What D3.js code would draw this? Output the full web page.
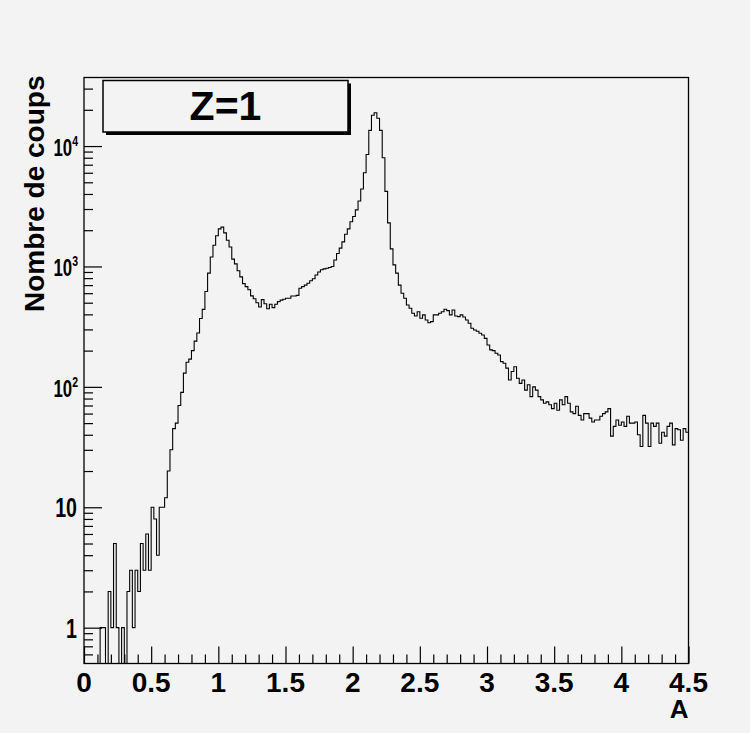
<!DOCTYPE html>
<html>
<head>
<meta charset="utf-8">
<script src="https://cdn.jsdelivr.net/npm/d3@7"></script>
<style>
  body { margin: 0; background: #f3f3f3; }
  svg { display: block; }
  text { font-family: "Liberation Sans", Arial, sans-serif; font-weight: bold; fill: #000; }
</style>
</head>
<body>
<div id="chart"></div>
<script>
// histogram: 225 bins of width 0.02 from 0 to 4.5
var binWidth = 0.02;
var xMin = 0, xMax = 4.5;
var counts = [
    0, 0, 0, 0, 0, 0, 1, 1, 0, 2,
    1, 5, 1, 0, 1, 0, 2, 3, 1, 3,
    2, 5, 3, 6, 3, 10, 8, 4, 10, 10,
    12, 20, 30, 45, 50, 70, 90, 130, 160, 170,
    200, 240, 280, 370, 440, 620, 880, 1200, 1500, 1800,
    2050, 2120, 1900, 1650, 1450, 1150, 1050, 920, 820, 720,
    680, 640, 570, 540, 500, 460, 530, 490, 445, 485,
    455, 485, 510, 525, 534, 545, 545, 569, 569, 575,
    659, 680, 700, 725, 760, 790, 850, 900, 940, 955,
    966, 980, 1000, 1130, 1280, 1420, 1600, 1850, 2050, 2350,
    2600, 2950, 3500, 4400, 6000, 8500, 13500, 18000, 18900, 17000,
    13500, 8000, 4200, 2300, 1400, 1030, 880, 700, 599, 545,
    479, 450, 409, 388, 421, 371, 396, 359, 341, 348,
    396, 396, 409, 421, 441, 430, 396, 435, 388, 383,
    396, 380, 359, 338, 307, 297, 290, 279, 270, 253,
    223, 203, 200, 190, 184, 162, 157, 143, 114, 134,
    147, 118, 107, 114, 94, 104, 83, 100, 94, 83,
    78, 73, 75, 71, 66, 73, 64, 78, 71, 83,
    73, 62, 60, 69, 58, 53, 60, 60, 55, 51,
    53, 53, 57, 60, 62, 66, 39, 47, 53, 48,
    51, 47, 57, 50, 50, 51, 40, 32, 58, 50,
    32, 50, 47, 50, 34, 42, 39, 47, 50, 33,
    45, 44, 36, 45, 42
];
var xTickValues = [0, 0.5, 1, 1.5, 2, 2.5, 3, 3.5, 4, 4.5];
var yDecades = [1, 10, 100, 1000, 10000];
var yDomain = [0.504, 37100];
var xTitle = "A";
var yTitle = "Nombre de coups";
var legendText = "Z=1";

var width = 750, height = 733;
var frame = { left: 84, right: 688.5, top: 77.5, bottom: 663.5 };

var svg = d3.select('#chart')
  .append('svg')
    .attr('width', width)
    .attr('height', height);

svg.append('rect')
    .attr('width', width)
    .attr('height', height)
    .attr('fill', '#f3f3f3');

var x = d3.scaleLinear()
    .domain([xMin, xMax])
    .range([frame.left, frame.right]);

var y = d3.scaleLog()
    .domain(yDomain)
    .range([frame.bottom, frame.top]);

// histogram outline
svg.append('clipPath').attr('id', 'plot-clip')
  .append('rect')
    .attr('x', frame.left)
    .attr('y', frame.top)
    .attr('width', frame.right - frame.left)
    .attr('height', frame.bottom - frame.top);

function yOf(v) {
    return v > 0 ? y(v) : frame.bottom + 2;
}

var pts = [];
counts.forEach((c, i) => {
    var x0 = x(xMin + i * binWidth), x1 = x(xMin + (i + 1) * binWidth);
    pts.push([x0, yOf(c)]);
    pts.push([x1, yOf(c)]);
});

svg.append('path')
    .attr('clip-path', 'url(#plot-clip)')
    .attr('d', d3.line()(pts))
    .attr('fill', 'none')
    .attr('stroke', '#000')
    .attr('stroke-width', 1.1);

// frame
svg.append('rect')
    .attr('x', frame.left)
    .attr('y', frame.top)
    .attr('width', frame.right - frame.left)
    .attr('height', frame.bottom - frame.top)
    .attr('fill', 'none')
    .attr('stroke', '#000')
    .attr('stroke-width', 1.3);

// x axis ticks (inside the frame)
var xMinor = d3.range(0, 45).map(i => i * 0.1).filter(v => Math.abs(v * 2 - Math.round(v * 2)) > 1e-6);
svg.append('g')
    .attr('transform', `translate(0,${frame.bottom})`)
    .call(d3.axisBottom(x).tickValues(xMinor).tickSize(-9).tickFormat(''))
    .call(g => g.select('.domain').remove());
svg.append('g')
    .attr('transform', `translate(0,${frame.bottom})`)
    .call(d3.axisBottom(x).tickValues(xTickValues).tickSize(-17).tickFormat(''))
    .call(g => g.select('.domain').remove());
svg.selectAll('.tick line').attr('stroke', '#000').attr('stroke-width', 1.2);

svg.append('g')
  .selectAll('text')
  .data(xTickValues)
  .enter()
  .append('text')
    .attr('x', d => x(d))
    .attr('y', 692)
    .attr('text-anchor', 'middle')
    .attr('font-size', 28)
    .text(d => d3.format('~g')(d));

svg.append('text')
    .attr('x', frame.right)
    .attr('y', 718)
    .attr('text-anchor', 'end')
    .attr('font-size', 26)
    .text(xTitle);

// y axis ticks
var yMinor = [];
[0.1, 1, 10, 100, 1000, 10000].forEach(d => {
    for (var k = 2; k <= 9; k++) {
        var v = d * k;
        if (v >= yDomain[0] && v <= yDomain[1]) yMinor.push(v);
    }
});
var yAxisG = svg.append('g')
    .attr('transform', `translate(${frame.left},0)`);
yAxisG.append('g')
    .call(d3.axisLeft(y).tickValues(yMinor).tickSize(-9).tickFormat(''))
    .call(g => g.select('.domain').remove());
yAxisG.append('g')
    .call(d3.axisLeft(y).tickValues(yDecades).tickSize(-18).tickFormat(''))
    .call(g => g.select('.domain').remove());
yAxisG.selectAll('.tick line').attr('stroke', '#000').attr('stroke-width', 1.2);

// decade labels, drawn condensed like the original
var yLabels = svg.append('g')
  .selectAll('g')
  .data(yDecades)
  .enter()
  .append('g')
    .attr('transform', d => `translate(${Math.log10(d) > 1.5 ? 78 : 77},${y(d) + 10}) scale(0.7,1)`)
  .append('text')
    .attr('text-anchor', 'end');

yLabels.each(function(d) {
    var t = d3.select(this);
    var e = Math.round(Math.log10(d));
    if (e <= 1) {
        t.attr('font-size', 28).text(String(d));
    } else {
        t.attr('font-size', 24);
        t.append('tspan').text('10');
        t.append('tspan')
            .attr('font-size', 15)
            .attr('dy', -10)
            .text(e);
    }
});

svg.append('text')
    .attr('transform', `translate(44,${frame.top - 2}) rotate(-90)`)
    .attr('text-anchor', 'end')
    .attr('font-size', 28)
    .text(yTitle);

// legend pave with shadow
var box = { x0: 103, x1: 348, y0: 80.5, y1: 132 };
svg.append('rect')
    .attr('x', box.x0 + 3)
    .attr('y', box.y0 + 3)
    .attr('width', box.x1 - box.x0)
    .attr('height', box.y1 - box.y0)
    .attr('fill', '#000');
svg.append('rect')
    .attr('x', box.x0)
    .attr('y', box.y0)
    .attr('width', box.x1 - box.x0)
    .attr('height', box.y1 - box.y0)
    .attr('fill', '#f3f3f3')
    .attr('stroke', '#000')
    .attr('stroke-width', 1.5);
svg.append('text')
    .attr('x', (box.x0 + box.x1) / 2)
    .attr('y', 119.5)
    .attr('text-anchor', 'middle')
    .attr('font-size', 41)
    .text(legendText);
</script>
</body>
</html>
